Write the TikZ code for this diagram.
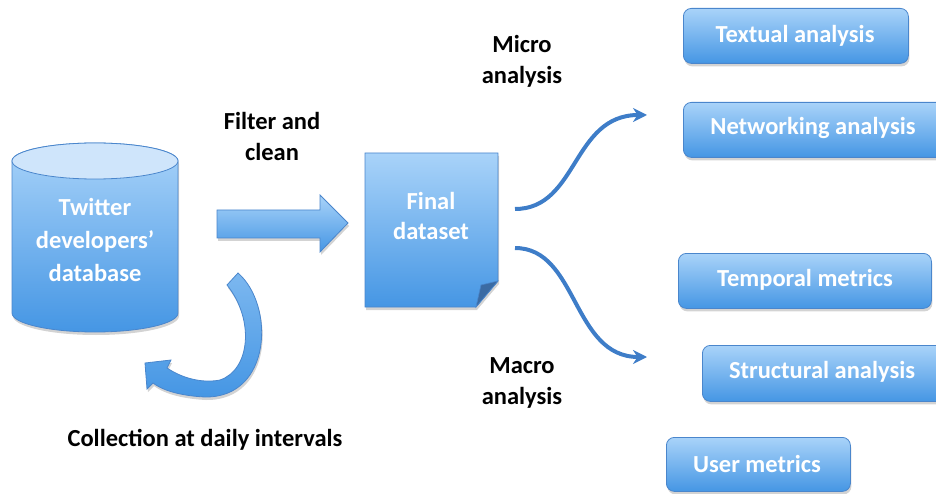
\documentclass[tikz,border=0pt]{standalone}
\usepackage{fontspec}
\setmainfont{Carlito}
\usetikzlibrary{shadows,arrows.meta}
\definecolor{btop}{HTML}{A9D3F9}
\definecolor{bbot}{HTML}{4596E4}
\definecolor{bline}{HTML}{4A86CC}
\definecolor{arr}{HTML}{3E7DC8}
\definecolor{cylTop}{HTML}{CFE5FB}
\begin{document}
\begin{tikzpicture}[x=1pt,y=1pt,
  lbl/.style={font=\fontsize{24.5}{31}\selectfont\bfseries, text=black, align=center},
  wlbl/.style={font=\fontsize{24.5}{33}\selectfont\bfseries, text=white, align=center},
  wtxt/.style={font=\fontsize{24.5}{28}\selectfont\bfseries, text=white},
  shd/.style={drop shadow={opacity=0.35,shadow xshift=1pt,shadow yshift=-3pt}},
  blue/.style={top color=btop, bottom color=bbot, draw=bline, line width=0.8pt},
  rbox/.style={blue, shd, rounded corners=8pt, inner sep=0pt},
  thin/.style={draw=arr, line width=4pt, -{Stealth[length=14pt,width=14pt]}}
]
\useasboundingbox (0,0) rectangle (936,-494);
\clip (0,0) rectangle (936,-494);

% database cylinder
\path[blue, shd] (12,-161) -- (12,-313) arc[start angle=180,end angle=360,x radius=83,y radius=19] -- (178,-161) arc[start angle=0,end angle=180,x radius=83,y radius=18] -- cycle;
\path[draw=bline, line width=0.8pt, fill=cylTop] (95,-161) ellipse[x radius=83, y radius=18];
\node[wlbl] (db) at (95,-240) {Twitter\\developers’\\database};

% block arrow
\path[blue, shd] (217,-210) -- (320,-210) -- (320,-195) -- (348,-223) -- (320,-252) -- (320,-238) -- (217,-238) -- cycle;
\node[lbl] (filter) at (272,-136) {Filter and\\clean};

% final dataset document
\path[blue, shd] (365,-153) -- (498,-153) -- (498,-281) -- (476,-307) -- (365,-307) -- cycle;
\path[fill=bline!80!black, draw=bline, line width=0.6pt] (498,-281) -- (476,-307) -- (481,-285) -- cycle;
\node[wlbl, font=\fontsize{24.5}{30}\selectfont\bfseries] (fd) at (431,-216) {Final\\dataset};

% curved collection arrow
\path[top color=btop!55!bbot, bottom color=bbot, draw=bline, line width=0.8pt, shd]
  (238,-273) .. controls (275,-305) and (272,-398) .. (205,-397)
  .. controls (185,-396) and (165,-392) .. (153,-383)
  -- (147,-389) -- (145,-363) -- (171,-360) -- (167,-368)
  .. controls (185,-380) and (205,-383) .. (220,-380)
  .. controls (250,-370) and (255,-320) .. (227,-285) -- cycle;
\node[lbl] (coll) at (205,-440) {Collection at daily intervals};

% labels
\node[lbl] (micro) at (522,-61) {Micro\\analysis};
\node[lbl] (macro) at (522,-383) {Macro\\analysis};

% thin curved arrows
\coordinate (u0) at (515,-209);
\coordinate (u1) at (647,-115);
\coordinate (l0) at (515,-248);
\coordinate (l1) at (647,-357);
\draw[thin] (u0) .. controls (578,-209) and (572,-115) .. (u1);
\draw[thin] (l0) .. controls (578,-248) and (572,-357) .. (l1);

% result boxes
\node[rbox, minimum width=225pt, minimum height=55pt, anchor=north west] (tex) at (683,-8) {};
\node[wtxt] (text1) at (795,-36) {Textual analysis};
\node[rbox, minimum width=270pt, minimum height=55pt, anchor=north west] (net) at (683,-102) {};
\node[wtxt] (text2) at (813,-128) {Networking analysis};
\node[rbox, minimum width=253pt, minimum height=55pt, anchor=north west] (tem) at (678,-253) {};
\node[wtxt] (text3) at (805,-280) {Temporal metrics};
\node[rbox, minimum width=250pt, minimum height=56pt, anchor=north west] (str) at (702,-345) {};
\node[wtxt] (text4) at (822,-372) {Structural analysis};
\node[rbox, minimum width=184pt, minimum height=54pt, anchor=north west] (usr) at (666,-437) {};
\node[wtxt] (text5) at (757,-464) {User metrics};
\end{tikzpicture}
\end{document}
